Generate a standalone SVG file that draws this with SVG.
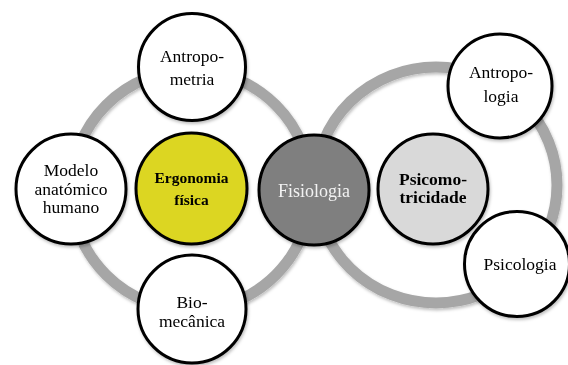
<svg xmlns="http://www.w3.org/2000/svg" width="568" height="365" viewBox="0 0 568 365">
<defs>
<filter id="sh" x="-20%" y="-20%" width="140%" height="140%">
<feDropShadow dx="1" dy="2" stdDeviation="1.5" flood-color="#000" flood-opacity="0.25"/>
</filter>
</defs>
<style>
.ring{fill:none;stroke:#a6a6a6;stroke-width:11}
.node{stroke:#000;stroke-width:3}
.t{font-family:"Liberation Serif","Times New Roman",serif;font-size:17.5px;fill:#000;text-anchor:middle}
.b{font-weight:bold}
</style>
<rect width="568" height="365" fill="#fff"/>
<g id="connectors" filter="url(#sh)">
<circle class="ring" cx="191" cy="190" r="120"/>
<ellipse class="ring" cx="436" cy="185" rx="121" ry="118"/>
</g>
<g id="antropometria" filter="url(#sh)">
<circle class="node" cx="192" cy="67" r="53.5" fill="#fff"/>
<text class="t" x="192" y="62">Antropo-</text>
<text class="t" x="192" y="85">metria</text>
</g>
<g id="modelo" filter="url(#sh)">
<circle class="node" cx="71" cy="189" r="55" fill="#fff"/>
<text class="t" x="71" y="176">Modelo</text>
<text class="t" x="71" y="195">anatómico</text>
<text class="t" x="71" y="213">humano</text>
</g>
<g id="biomecanica" filter="url(#sh)">
<circle class="node" cx="192" cy="309" r="54" fill="#fff"/>
<text class="t" x="192" y="308">Bio-</text>
<text class="t" x="192" y="327">mecânica</text>
</g>
<g id="ergonomia" filter="url(#sh)">
<circle class="node" cx="191.5" cy="188.5" r="55.5" fill="#dcd620"/>
<text class="t b" x="191.5" y="183" style="font-size:15.5px">Ergonomia</text>
<text class="t b" x="191.5" y="205" style="font-size:15.5px">física</text>
</g>
<g id="fisiologia" filter="url(#sh)">
<circle class="node" cx="314" cy="190" r="55" fill="#7f7f7f"/>
<text class="t" x="314" y="197" style="fill:#f2f2f2;font-size:18px">Fisiologia</text>
</g>
<g id="psicomotricidade" filter="url(#sh)">
<circle class="node" cx="433" cy="189" r="55" fill="#d9d9d9"/>
<text class="t b" x="433" y="185">Psicomo-</text>
<text class="t b" x="433" y="203">tricidade</text>
</g>
<g id="antropologia" filter="url(#sh)">
<circle class="node" cx="500" cy="86" r="52" fill="#fff"/>
<text class="t" x="501" y="78">Antropo-</text>
<text class="t" x="501" y="102">logia</text>
</g>
<g id="psicologia" filter="url(#sh)">
<circle class="node" cx="517" cy="264" r="52.5" fill="#fff"/>
<text class="t" x="520" y="270">Psicologia</text>
</g>
</svg>
